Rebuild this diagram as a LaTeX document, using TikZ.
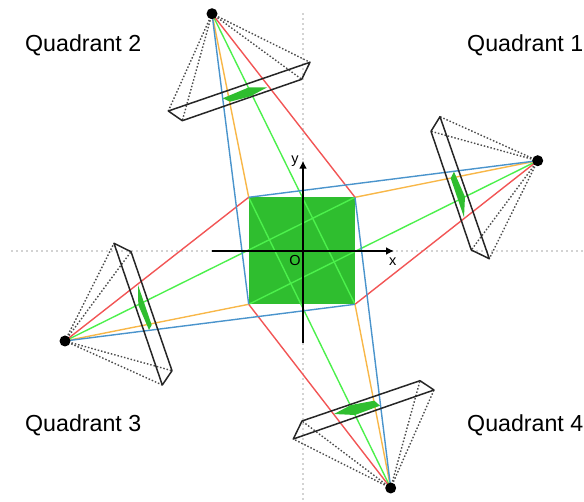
\documentclass[tikz,border=0pt]{standalone}
\usepackage{fontspec}
\setmainfont{Liberation Sans}
\usetikzlibrary{arrows.meta,backgrounds}
\definecolor{rayblue}{HTML}{4A94CC}
\definecolor{rayorange}{HTML}{F8B748}
\definecolor{raygreen}{HTML}{4CF04C}
\definecolor{rayred}{HTML}{F25555}
\definecolor{fillgreen}{HTML}{2FBE2F}
\tikzset{
 x=1pt,y=-1pt,
 guide/.style={draw=black!35,line width=1.8pt,line cap=round,dash pattern=on 0pt off 5pt},
 axisline/.style={draw=black,line width=2pt,-{Latex[length=8pt,width=8pt]}},
 ray/.style={line width=1.4pt},
 sight/.style={draw=black!70,line width=1.4pt,dash pattern=on 1.5pt off 1.9pt},
 frame/.style={draw=black!85,line width=1.5pt,line join=round},
 camera/.style={circle,fill=black,inner sep=0pt,minimum size=11pt},
 label/.style={font=\fontsize{23.2}{27}\selectfont,inner sep=0pt,anchor=west},
 axislabel/.style={font=\fontsize{14.5}{17}\selectfont,inner sep=0pt},
}
\begin{document}
\begin{tikzpicture}
\useasboundingbox (0,0) rectangle (584,502);
\coordinate (TL) at (248.7,197.3);
\coordinate (TR) at (355,197.3);
\coordinate (BR) at (355,304.3);
\coordinate (BL) at (248.7,304.3);
\node[camera] (c1) at (537.7,160.7) {};
\node[camera] (c2) at (212,13.7) {};
\node[camera] (c3) at (65,341) {};
\node[camera] (c4) at (390.7,488) {};
\begin{pgfonlayer}{background}
\coordinate (gl) at (12,251); \coordinate (gr) at (584,251);
\coordinate (gt) at (303,14); \coordinate (gb) at (303,502);
\draw[guide] (gl) -- (gr);
\draw[guide] (gt) -- (gb);
\fill[fillgreen] (TL) -- (TR) -- (BR) -- (BL) -- cycle;
\draw[ray,raygreen] (c1.center) -- (BL);
\draw[ray,raygreen] (c2.center) -- (BR);
\draw[ray,raygreen] (c3.center) -- (TR);
\draw[ray,raygreen] (c4.center) -- (TL);
\draw[ray,rayred] (c1.center) -- (BR);
\draw[ray,rayred] (c2.center) -- (TR);
\draw[ray,rayred] (c3.center) -- (TL);
\draw[ray,rayred] (c4.center) -- (BL);
\draw[ray,rayorange] (c1.center) -- (TR);
\draw[ray,rayorange] (c2.center) -- (TL);
\draw[ray,rayorange] (c3.center) -- (BL);
\draw[ray,rayorange] (c4.center) -- (BR);
\draw[ray,rayblue] (c1.center) -- (TL);
\draw[ray,rayblue] (c2.center) -- (BL);
\draw[ray,rayblue] (c3.center) -- (BR);
\draw[ray,rayblue] (c4.center) -- (TR);
% Q1 frustum
\coordinate (a1) at (440,116.7); \coordinate (a2) at (431,131.3);
\coordinate (a3) at (471.3,250); \coordinate (a4) at (489.3,258.7);
\foreach \k in {a1,a2,a3,a4} \draw[sight] (c1.center) -- (\k);
\draw[frame] (a1) -- (a2) -- (a3) -- (a4) -- cycle;
\fill[fillgreen] (450.7,178.3) -- (454,171.7) -- (465,196.7) -- (464,217.3) -- cycle;
% Q2 frustum
\coordinate (b1) at (168.3,111); \coordinate (b2) at (182.3,120.7);
\coordinate (b3) at (301.7,79.3); \coordinate (b4) at (310,62.3);
\foreach \k in {b1,b2,b3,b4} \draw[sight] (c2.center) -- (\k);
\draw[frame] (b1) -- (b2) -- (b3) -- (b4) -- cycle;
\fill[fillgreen] (222.7,98.3) -- (249,87.3) -- (267.3,87.3) -- (250,96.5) -- (230,101.7) -- cycle;
% Q3 frustum
\coordinate (d1) at (114,243.3); \coordinate (d2) at (131,251.7);
\coordinate (d3) at (172,370.7); \coordinate (d4) at (162.3,385);
\foreach \k in {d1,d2,d3,d4} \draw[sight] (c3.center) -- (\k);
\draw[frame] (d1) -- (d2) -- (d3) -- (d4) -- cycle;
\fill[fillgreen] (138,285) -- (151.7,325) -- (149,330) -- (138.3,305) -- cycle;
% Q4 frustum
\coordinate (e1) at (293.3,439); \coordinate (e2) at (302,421);
\coordinate (e3) at (420,380.7); \coordinate (e4) at (434,390);
\foreach \k in {e1,e2,e3,e4} \draw[sight] (c4.center) -- (\k);
\draw[frame] (e1) -- (e2) -- (e3) -- (e4) -- cycle;
\fill[fillgreen] (334,414) -- (351,405) -- (374.3,400.7) -- (380,405.7) -- (355,415) -- cycle;
\end{pgfonlayer}
% axes
\coordinate (xs) at (212,251); \coordinate (xe) at (394,251);
\coordinate (ys) at (303,342.7); \coordinate (ye) at (303,160.7);
\draw[axisline] (xs) -- (xe);
\draw[axisline] (ys) -- (ye);
\node[axislabel] (lx) at (392.7,262) {x};
\node[axislabel] (ly) at (295,161.5) {y};
\node[axislabel] (lo) at (295,261) {O};
% labels
\node[label] (q2) at (25,45.5) {Quadrant 2};
\node[label] (q1) at (467,45.5) {Quadrant 1};
\node[label] (q3) at (25,425.5) {Quadrant 3};
\node[label] (q4) at (467,425.5) {Quadrant 4};
\end{tikzpicture}
\end{document}
